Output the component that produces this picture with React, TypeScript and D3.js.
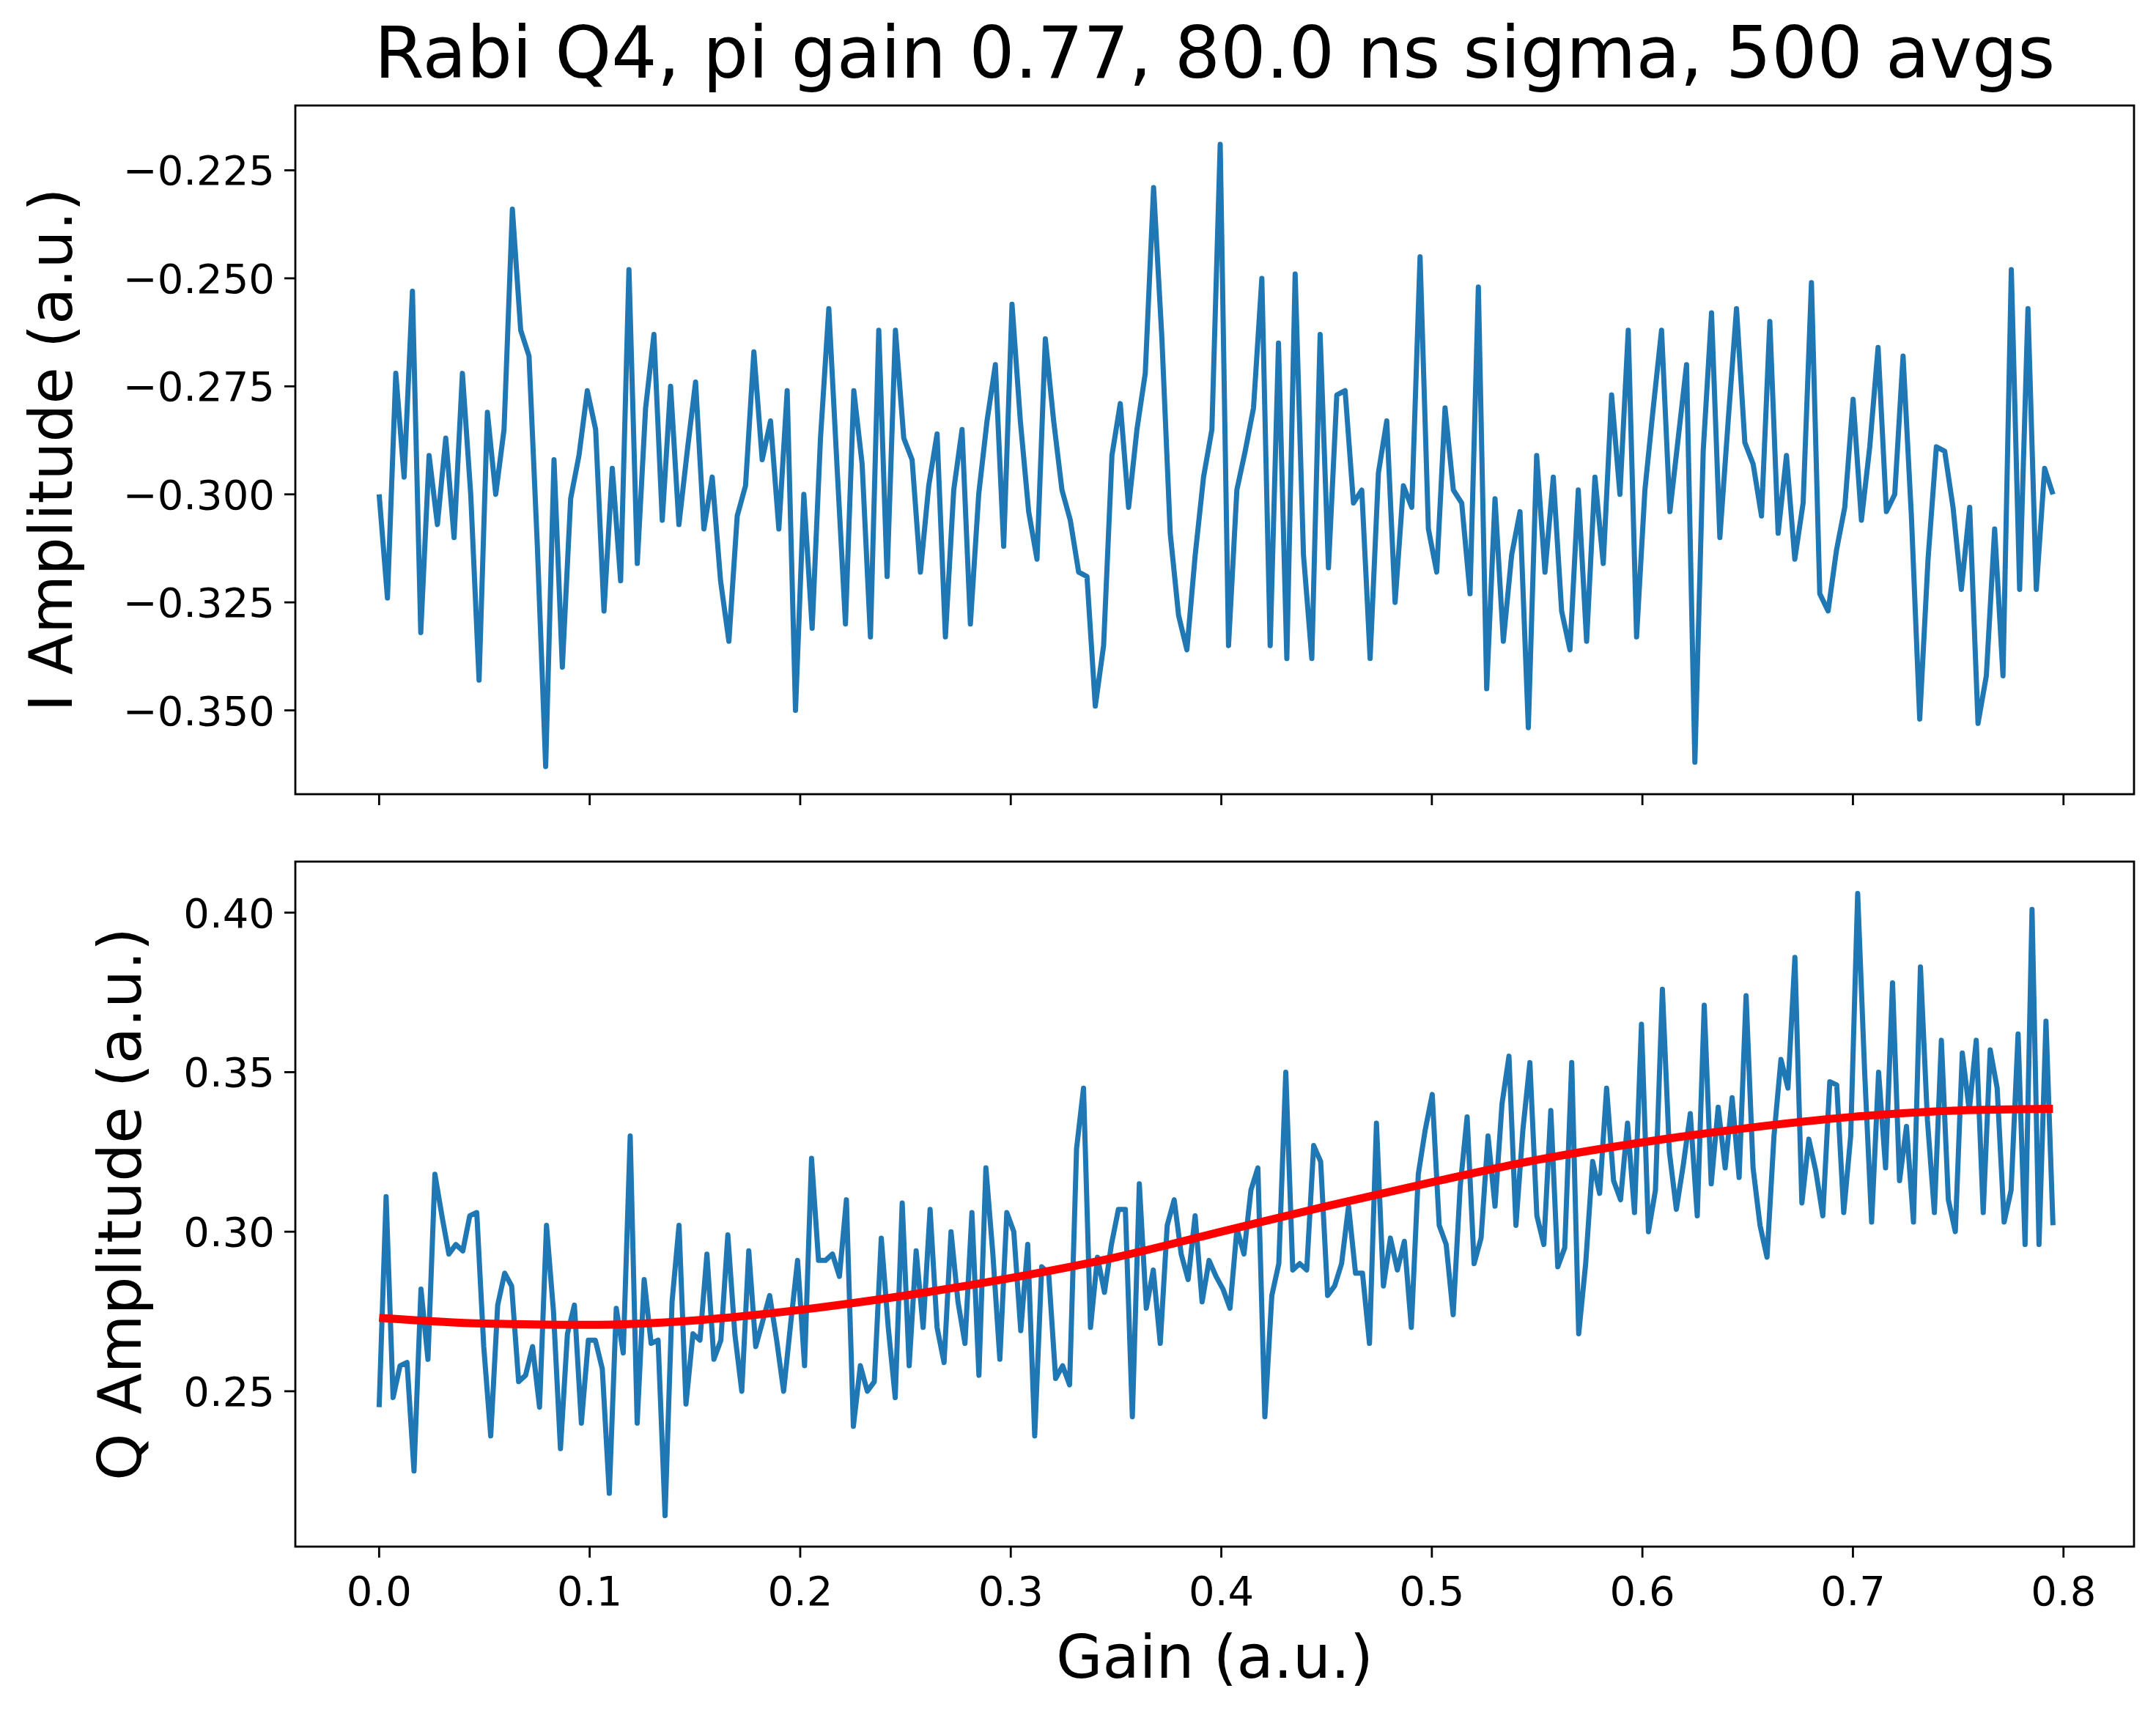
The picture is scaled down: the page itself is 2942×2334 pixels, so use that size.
import React from 'react';
import * as d3 from 'd3';

const iValues = [
  -0.300, -0.324, -0.272, -0.296, -0.253, -0.332, -0.291, -0.307, -0.287, -0.310,
  -0.272, -0.300, -0.343, -0.281, -0.300, -0.285, -0.234, -0.262, -0.268, -0.312,
  -0.363, -0.292, -0.340, -0.301, -0.291, -0.276, -0.285, -0.327, -0.294, -0.320,
  -0.248, -0.316, -0.280, -0.263, -0.306, -0.275, -0.307, -0.290, -0.274, -0.308,
  -0.296, -0.320, -0.334, -0.305, -0.298, -0.267, -0.292, -0.283, -0.308, -0.276,
  -0.350, -0.300, -0.331, -0.287, -0.257, -0.294, -0.330, -0.276, -0.293, -0.333,
  -0.262, -0.319, -0.262, -0.287, -0.292, -0.318, -0.298, -0.286, -0.333, -0.299,
  -0.285, -0.330, -0.300, -0.283, -0.270, -0.312, -0.256, -0.283, -0.304, -0.315,
  -0.264, -0.283, -0.299, -0.306, -0.318, -0.319, -0.349, -0.335, -0.291, -0.279,
  -0.303, -0.285, -0.272, -0.229, -0.264, -0.309, -0.328, -0.336, -0.314, -0.296,
  -0.285, -0.219, -0.335, -0.299, -0.290, -0.280, -0.250, -0.335, -0.265, -0.338,
  -0.249, -0.314, -0.338, -0.263, -0.317, -0.277, -0.276, -0.302, -0.299, -0.338,
  -0.295, -0.283, -0.325, -0.298, -0.303, -0.245, -0.308, -0.318, -0.280, -0.299,
  -0.302, -0.323, -0.252, -0.345, -0.301, -0.334, -0.314, -0.304, -0.354, -0.291,
  -0.318, -0.296, -0.327, -0.336, -0.299, -0.334, -0.296, -0.316, -0.277, -0.300,
  -0.262, -0.333, -0.299, -0.280, -0.262, -0.304, -0.287, -0.270, -0.362, -0.290,
  -0.258, -0.310, -0.283, -0.257, -0.288, -0.293, -0.305, -0.260, -0.309, -0.291,
  -0.315, -0.302, -0.251, -0.323, -0.327, -0.313, -0.303, -0.278, -0.306, -0.289,
  -0.266, -0.304, -0.300, -0.268, -0.305, -0.352, -0.315, -0.289, -0.290, -0.303,
  -0.322, -0.303, -0.353, -0.342, -0.308, -0.342, -0.248, -0.322, -0.257, -0.322,
  -0.294, -0.300,
];

const qValues = [
  0.245, 0.311, 0.248, 0.258, 0.259, 0.225, 0.282, 0.260, 0.318, 0.305, 0.293, 0.296,
  0.294, 0.305, 0.306, 0.264, 0.236, 0.277, 0.287, 0.283, 0.253, 0.255, 0.264, 0.245,
  0.302, 0.275, 0.232, 0.268, 0.277, 0.240, 0.266, 0.266, 0.257, 0.218, 0.276, 0.262,
  0.330, 0.240, 0.285, 0.265, 0.266, 0.211, 0.278, 0.302, 0.246, 0.268, 0.266, 0.293,
  0.260, 0.266, 0.299, 0.268, 0.250, 0.294, 0.264, 0.272, 0.280, 0.266, 0.250, 0.271,
  0.291, 0.258, 0.323, 0.291, 0.291, 0.293, 0.286, 0.310, 0.239, 0.258, 0.250, 0.253,
  0.298, 0.270, 0.248, 0.309, 0.258, 0.294, 0.270, 0.307, 0.270, 0.259, 0.300, 0.278,
  0.265, 0.306, 0.255, 0.320, 0.293, 0.260, 0.306, 0.300, 0.269, 0.296, 0.236, 0.289,
  0.287, 0.254, 0.258, 0.252, 0.326, 0.345, 0.270, 0.292, 0.281, 0.296, 0.307, 0.307,
  0.242, 0.315, 0.276, 0.288, 0.265, 0.302, 0.310, 0.293, 0.285, 0.305, 0.278, 0.291,
  0.286, 0.282, 0.276, 0.301, 0.293, 0.313, 0.320, 0.242, 0.280, 0.290, 0.350, 0.288,
  0.290, 0.288, 0.327, 0.322, 0.280, 0.283, 0.290, 0.308, 0.287, 0.287, 0.265, 0.334,
  0.283, 0.298, 0.288, 0.297, 0.270, 0.318, 0.332, 0.343, 0.302, 0.296, 0.274, 0.314,
  0.336, 0.290, 0.298, 0.330, 0.308, 0.340, 0.355, 0.302, 0.332, 0.353, 0.305, 0.296,
  0.338, 0.289, 0.295, 0.353, 0.268, 0.290, 0.322, 0.312, 0.345, 0.316, 0.310, 0.334,
  0.306, 0.365, 0.300, 0.313, 0.376, 0.325, 0.307, 0.321, 0.337, 0.305, 0.371, 0.315,
  0.339, 0.320, 0.342, 0.317, 0.374, 0.320, 0.302, 0.292, 0.330, 0.354, 0.345, 0.386,
  0.309, 0.329, 0.319, 0.305, 0.347, 0.346, 0.306, 0.330, 0.406, 0.350, 0.303, 0.350,
  0.320, 0.378, 0.316, 0.333, 0.303, 0.383, 0.335, 0.306, 0.360, 0.310, 0.300, 0.356,
  0.338, 0.360, 0.306, 0.357, 0.345, 0.303, 0.313, 0.362, 0.296, 0.401, 0.296, 0.366,
  0.302,
];

const fitGain = [0, 0.05, 0.1, 0.15, 0.2, 0.25, 0.3, 0.35, 0.4, 0.45, 0.5, 0.55, 0.6, 0.65, 0.7, 0.75, 0.795];
const fitQ = [0.273, 0.2712, 0.2708, 0.2722, 0.2755, 0.280, 0.2855, 0.292, 0.300, 0.308, 0.3155, 0.3225, 0.328, 0.3325, 0.336, 0.338, 0.3385];

const xTicks = [0, 0.1, 0.2, 0.3, 0.4, 0.5, 0.6, 0.7, 0.8];
const iTicks = [-0.225, -0.25, -0.275, -0.3, -0.325, -0.35];
const qTicks = [0.25, 0.3, 0.35, 0.4];

const W = 2942, H = 2334;
const L = 403, R = 2912;
const top1 = 144, bot1 = 1084, top2 = 1176, bot2 = 2111;
const FONT = 'DejaVu Sans, sans-serif';
const BLUE = '#1f77b4';

const gainOf = (n: number) => (i: number) => (i * 0.795) / (n - 1);

export default function App() {
  const x = d3.scaleLinear().domain([-0.0398, 0.8335]).range([L, R]);
  const yI = d3.scaleLinear().domain([-0.3694, -0.21]).range([bot1, top1]);
  const yQ = d3.scaleLinear().domain([0.2013, 0.416]).range([bot2, top2]);

  const gi = gainOf(iValues.length);
  const gq = gainOf(qValues.length);
  const lineI = d3.line<number>().x((_, i) => x(gi(i))).y(d => yI(d))(iValues) || '';
  const lineQ = d3.line<number>().x((_, i) => x(gq(i))).y(d => yQ(d))(qValues) || '';
  const lineFit = d3.line<number>().x((_, i) => x(fitGain[i])).y(d => yQ(d)).curve(d3.curveMonotoneX)(fitQ) || '';

  const frame = (t: number, b: number) => (
    <rect x={L} y={t} width={R - L} height={b - t} fill="none" stroke="#000" strokeWidth={2.8} />
  );

  return (
    <svg width={W} height={H} style={{ position: 'absolute', left: 0, top: 0, background: '#fff' }} fontFamily={FONT}>
      <rect width={W} height={H} fill="#fff" />
      <text x={(L + R) / 2} y={106} fontSize={98} textAnchor="middle">Rabi Q4, pi gain 0.77, 80.0 ns sigma, 500 avgs</text>

      <defs>
        <clipPath id="c1"><rect x={L} y={top1} width={R - L} height={bot1 - top1} /></clipPath>
        <clipPath id="c2"><rect x={L} y={top2} width={R - L} height={bot2 - top2} /></clipPath>
      </defs>

      <path d={lineI} fill="none" stroke={BLUE} strokeWidth={7} strokeLinejoin="round" clipPath="url(#c1)" />
      <path d={lineQ} fill="none" stroke={BLUE} strokeWidth={7} strokeLinejoin="round" clipPath="url(#c2)" />
      <path d={lineFit} fill="none" stroke="#ff0000" strokeWidth={11} clipPath="url(#c2)" />

      {frame(top1, bot1)}
      {frame(top2, bot2)}

      {xTicks.map(t => (
        <g key={'x' + t}>
          <line x1={x(t)} x2={x(t)} y1={bot1} y2={bot1 + 15} stroke="#000" strokeWidth={2.8} />
          <line x1={x(t)} x2={x(t)} y1={bot2} y2={bot2 + 15} stroke="#000" strokeWidth={2.8} />
          <text x={x(t)} y={bot2 + 80} fontSize={56} textAnchor="middle">{t.toFixed(1)}</text>
        </g>
      ))}
      {iTicks.map(t => (
        <g key={'i' + t}>
          <line x1={L - 15} x2={L} y1={yI(t)} y2={yI(t)} stroke="#000" strokeWidth={2.8} />
          <text x={L - 28} y={yI(t) + 20} fontSize={56} textAnchor="end">{'\u2212' + Math.abs(t).toFixed(3)}</text>
        </g>
      ))}
      {qTicks.map(t => (
        <g key={'q' + t}>
          <line x1={L - 15} x2={L} y1={yQ(t)} y2={yQ(t)} stroke="#000" strokeWidth={2.8} />
          <text x={L - 28} y={yQ(t) + 20} fontSize={56} textAnchor="end">{t.toFixed(2)}</text>
        </g>
      ))}

      <text x={(L + R) / 2} y={2290} fontSize={82} textAnchor="middle">Gain (a.u.)</text>
      <text transform={`translate(98,${(top1 + bot1) / 2}) rotate(-90)`} fontSize={82} textAnchor="middle">I Amplitude (a.u.)</text>
      <text transform={`translate(192,${(top2 + bot2) / 2}) rotate(-90)`} fontSize={82} textAnchor="middle">Q Amplitude (a.u.)</text>
    </svg>
  );
}
